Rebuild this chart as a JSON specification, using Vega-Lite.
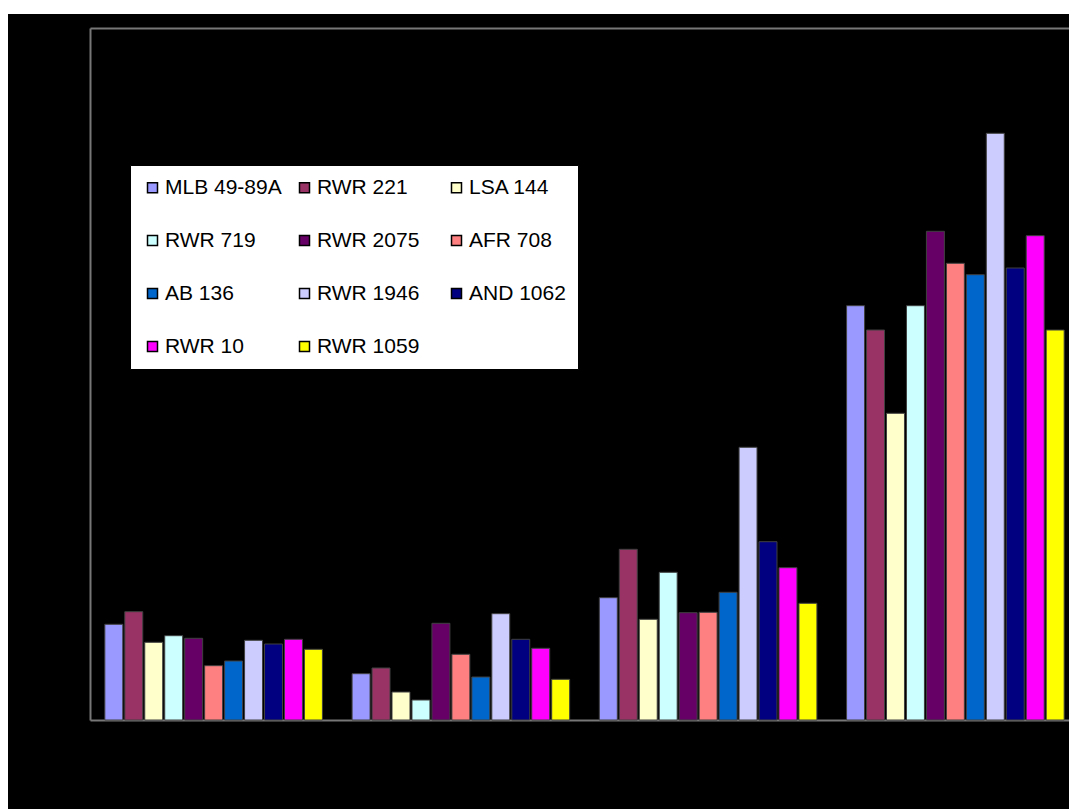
{
  "$schema": "https://vega.github.io/schema/vega-lite/v6.json",
  "width": 1061,
  "height": 795,
  "autosize": {"type": "none"},
  "padding": {"left": 8, "top": 14, "right": 0, "bottom": 0},
  "background": "white",
  "config": {
    "view": {"fill": "black", "stroke": null},
    "axis": {"domainColor": "#777777", "domainWidth": 2, "ticks": false, "labels": false, "title": null, "grid": false}
  },
  "data": {
    "values": [
      {"group": "G1", "series": "MLB 49-89A", "value": 95.7},
      {"group": "G1", "series": "RWR 221", "value": 108.3},
      {"group": "G1", "series": "\u00a0LSA 144", "value": 77.7},
      {"group": "G1", "series": "RWR 719", "value": 84.3},
      {"group": "G1", "series": "RWR 2075", "value": 81.7},
      {"group": "G1", "series": "AFR 708", "value": 54.3},
      {"group": "G1", "series": "AB 136", "value": 59},
      {"group": "G1", "series": "\u00a0RWR 1946", "value": 79.7},
      {"group": "G1", "series": "AND 1062", "value": 76},
      {"group": "G1", "series": "RWR 10", "value": 80.7},
      {"group": "G1", "series": "RWR 1059", "value": 70.7},
      {"group": "G2", "series": "MLB 49-89A", "value": 46.3},
      {"group": "G2", "series": "RWR 221", "value": 52},
      {"group": "G2", "series": "\u00a0LSA 144", "value": 28},
      {"group": "G2", "series": "RWR 719", "value": 20},
      {"group": "G2", "series": "RWR 2075", "value": 96.7},
      {"group": "G2", "series": "AFR 708", "value": 65.7},
      {"group": "G2", "series": "AB 136", "value": 43},
      {"group": "G2", "series": "\u00a0RWR 1946", "value": 106.3},
      {"group": "G2", "series": "AND 1062", "value": 80.7},
      {"group": "G2", "series": "RWR 10", "value": 71.7},
      {"group": "G2", "series": "RWR 1059", "value": 40.7},
      {"group": "G3", "series": "MLB 49-89A", "value": 122.3},
      {"group": "G3", "series": "RWR 221", "value": 170.7},
      {"group": "G3", "series": "\u00a0LSA 144", "value": 100.7},
      {"group": "G3", "series": "RWR 719", "value": 147.7},
      {"group": "G3", "series": "RWR 2075", "value": 107.3},
      {"group": "G3", "series": "AFR 708", "value": 107.7},
      {"group": "G3", "series": "AB 136", "value": 127.7},
      {"group": "G3", "series": "\u00a0RWR 1946", "value": 272.7},
      {"group": "G3", "series": "AND 1062", "value": 178.3},
      {"group": "G3", "series": "RWR 10", "value": 152.3},
      {"group": "G3", "series": "RWR 1059", "value": 116.7},
      {"group": "G4", "series": "MLB 49-89A", "value": 414.3},
      {"group": "G4", "series": "RWR 221", "value": 390},
      {"group": "G4", "series": "\u00a0LSA 144", "value": 306.7},
      {"group": "G4", "series": "RWR 719", "value": 414.3},
      {"group": "G4", "series": "RWR 2075", "value": 488.7},
      {"group": "G4", "series": "AFR 708", "value": 456.7},
      {"group": "G4", "series": "AB 136", "value": 445.3},
      {"group": "G4", "series": "\u00a0RWR 1946", "value": 586.7},
      {"group": "G4", "series": "AND 1062", "value": 452},
      {"group": "G4", "series": "RWR 10", "value": 484.3},
      {"group": "G4", "series": "RWR 1059", "value": 390}
    ]
  },
  "layer": [
    {
      "mark": {"type": "bar", "stroke": "#404040", "strokeWidth": 1},
      "encoding": {
        "x": {
          "field": "group", "type": "nominal", "sort": null,
          "scale": {"range": [82, 1071], "paddingInner": 0.12, "paddingOuter": 0.06},
          "axis": {"orient": "bottom", "offset": -89}
        },
        "xOffset": {
          "field": "series", "type": "nominal",
          "sort": ["MLB 49-89A", "RWR 221", "\u00a0LSA 144", "RWR 719", "RWR 2075", "AFR 708", "AB 136", "\u00a0RWR 1946", "AND 1062", "RWR 10", "RWR 1059"],
          "scale": {"paddingInner": 0.1}
        },
        "y": {
          "field": "value", "type": "quantitative",
          "scale": {"domain": [0, 692], "range": [706, 14], "nice": false},
          "axis": {"offset": -82}
        },
        "color": {
          "field": "series", "type": "nominal",
          "scale": {
            "domain": ["MLB 49-89A", "RWR 221", "\u00a0LSA 144", "RWR 719", "RWR 2075", "AFR 708", "AB 136", "\u00a0RWR 1946", "AND 1062", "RWR 10", "RWR 1059"],
            "range": ["#9999FF", "#993366", "#FFFFCC", "#CCFFFF", "#660066", "#FF8080", "#0066CC", "#CCCCFF", "#000080", "#FF00FF", "#FFFF00"]
          },
          "legend": {
            "orient": "none", "direction": "horizontal", "legendX": 122, "legendY": 151, "columns": 3, "title": null,
            "symbolType": "square", "symbolSize": 100, "symbolStrokeColor": "black", "symbolStrokeWidth": 1.5,
            "symbolOpacity": 1,
            "labelFont": "Liberation Sans", "labelFontSize": 21, "labelColor": "black", "labelOffset": 2, "labelLimit": 0,
            "fillColor": "white", "strokeColor": "black", "padding": 12,
            "rowPadding": 31, "columnPadding": 12, "gridAlign": "all"
          }
        }
      }
    },
    {
      "mark": {"type": "tick", "opacity": 0},
      "encoding": {
        "x": {"field": "group", "type": "nominal", "sort": null, "axis": {"orient": "top", "offset": -14}}
      }
    }
  ],
  "resolve": {"axis": {"x": "independent"}}
}
